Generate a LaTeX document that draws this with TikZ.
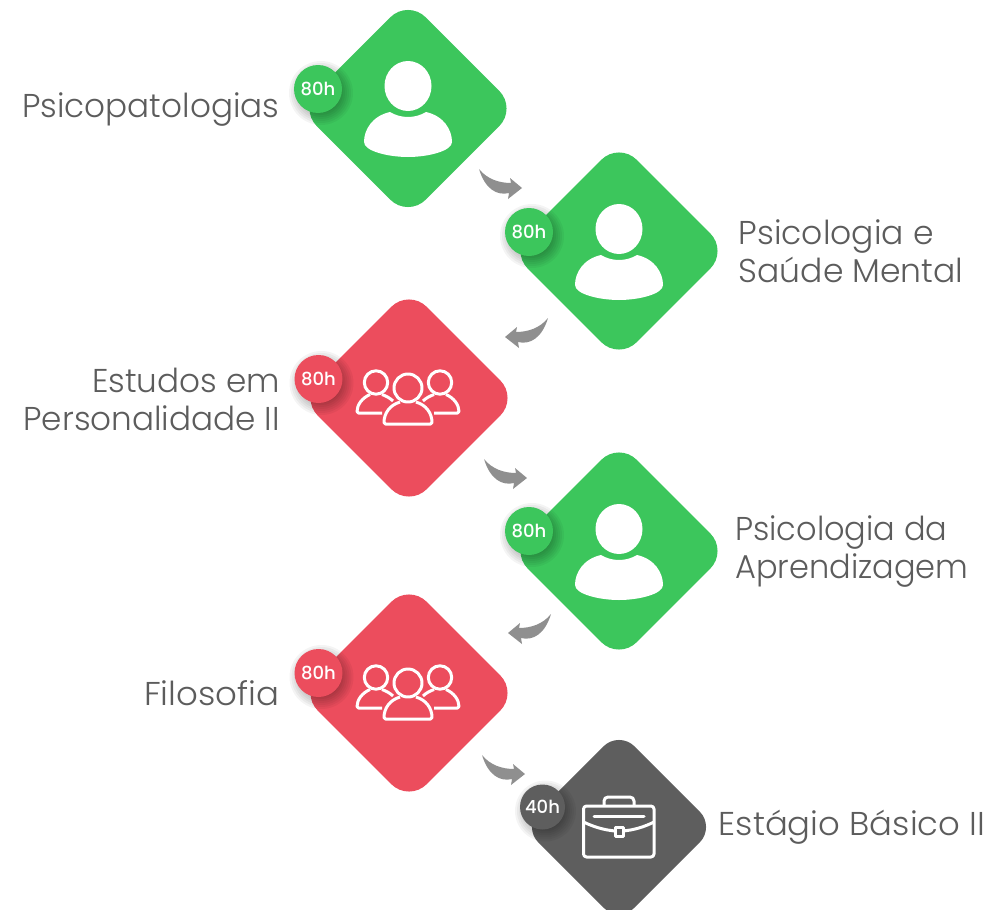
\documentclass[tikz,border=0pt]{standalone}
\usepackage{fontspec}
\setmainfont{Poppins}[UprightFont=* Light,BoldFont=* Medium]
\definecolor{cgreen}{HTML}{3CC65C}
\definecolor{cred}{HTML}{EC4D5D}
\definecolor{cdark}{HTML}{5E5E5E}
\definecolor{carrow}{HTML}{8F8F8F}
\definecolor{ctext}{HTML}{5C5C5C}
\tikzset{
  tile/.style={shape=rectangle,rotate=45,minimum size=154pt,rounded corners=25pt,fill=#1,inner sep=0pt},
  smalltile/.style={shape=rectangle,rotate=45,minimum size=136pt,rounded corners=22pt,fill=#1,inner sep=0pt},
  badge/.style={shape=circle,minimum size=48pt,inner sep=0pt,fill=#1,text=white,font=\fontsize{18}{18}\selectfont\bfseries},
  label/.style={text=ctext,font=\fontsize{33}{38}\selectfont,inner sep=0pt},
  iconline/.style={draw=white,line width=3pt,line join=round},
}
\newcommand\softshadow[2]{\begin{scope}[shift={(#1)}]
  \foreach \d in {-4,-2,...,8} {\fill[black,opacity=.045] (3,4) circle[radius=#2+\d];}
\end{scope}}
\newcommand\personicon[1]{\begin{scope}[shift={(#1)}]
  \fill[white] (0,0) ellipse[x radius=23.5,y radius=25];
  \fill[white] (0,31) .. controls (-7,31) and (-13,29) .. (-18,26)
    .. controls (-36,30) and (-44,44) .. (-44,56)
    .. controls (-44,65) and (-20,71) .. (0,71)
    .. controls (20,71) and (44,65) .. (44,56)
    .. controls (44,44) and (36,30) .. (18,26)
    .. controls (13,29) and (7,31) .. (0,31) -- cycle;
\end{scope}}
\newcommand\groupicon[1]{\begin{scope}[shift={(#1)}]
  \draw[iconline] (-32,-5.5) circle[radius=11.7];
  \draw[iconline] (32,-5.5) circle[radius=11.7];
  \draw[iconline,rounded corners=1.5pt] (-38,6.5) .. controls (-46,10) and (-51,17) .. (-51,25) -- (-26,25);
  \draw[iconline] (-26,6.5) .. controls (-22,8) and (-18,10) .. (-15,13);
  \draw[iconline,rounded corners=1.5pt] (38,6.5) .. controls (46,10) and (51,17) .. (51,25) -- (26,25);
  \draw[iconline] (26,6.5) .. controls (22,8) and (18,10) .. (15,13);
  \draw[iconline] (0,0) circle[radius=14];
  \draw[iconline,rounded corners=1.5pt] (-8,14) .. controls (-18,17) and (-24,25) .. (-24,36) -- (24,36) .. controls (24,25) and (18,17) .. (8,14);
\end{scope}}
\newcommand\garrow[2]{\begin{scope}[shift={(#1)},xscale=#2]
  \fill[carrow] (0,0) .. controls (8,10) and (20,14) .. (32,14) -- (31,9) -- (43,19) -- (29,30) -- (30,24)
     .. controls (18,27) and (6,20) .. (0,0) -- cycle;
\end{scope}}
\begin{document}
\begin{tikzpicture}[x=1pt,y=-1pt]
\useasboundingbox (0,0) rectangle (1007,910);
\clip (0,0) rectangle (1007,910);
\node[tile=cgreen] (t1) at (408,108.5) {};
\node[tile=cgreen] (t2) at (619,251) {};
\node[tile=cred] (t3) at (409,398) {};
\node[tile=cgreen] (t4) at (619,551) {};
\node[tile=cred] (t5) at (409,693) {};
\node[smalltile=cdark] (t6) at (619,827) {};
\personicon{408,86}
\personicon{619,229}
\groupicon{408,388}
\personicon{619,529}
\groupicon{408,683}
% briefcase
\draw[iconline,rounded corners=3pt] (583.5,806) rectangle (654,857);
\draw[iconline,rounded corners=4pt] (604,806) -- (604,797) -- (634,797) -- (634,806);
\draw[iconline,line cap=round] (594,816) -- (644,816);
\draw[iconline] (583.5,822) .. controls (594,827) and (604,830) .. (615,831);
\draw[iconline] (654,822) .. controls (644,827) and (634,830) .. (623,831);
\draw[iconline] (615.5,827) rectangle (623,836.5);
% badges
\softshadow{318,89}{24}
\softshadow{529,232}{24}
\softshadow{318.5,379}{24}
\softshadow{529,531}{24}
\softshadow{318.5,673}{24}
\softshadow{542.5,807}{22.5}
\node[badge=cgreen] (b1) at (318,89) {80h};
\node[badge=cgreen] (b2) at (529,232) {80h};
\node[badge=cred] (b3) at (318.5,379) {80h};
\node[badge=cgreen] (b4) at (529,531) {80h};
\node[badge=cred] (b5) at (318.5,673) {80h};
\node[badge=cdark,minimum size=45pt] (b6) at (542.5,807) {40h};
% arrows
\garrow{479,169}{1}
\garrow{548,318}{-1}
\garrow{484,459}{1}
\garrow{551,614}{-1}
\garrow{482,755}{1}
% labels
\node[label,anchor=base east,xscale=.99] (l1) at (279.5,117) {Psicopatologias};
\node[label,anchor=base west,align=left] (l2) at (738.5,282) {Psicologia e\\Saúde Mental};
\node[label,anchor=base east,align=right,xscale=.99] (l3) at (280,430) {Estudos em\\Personalidade II};
\node[label,anchor=base west,align=left,xscale=.97] (l4) at (735,578) {Psicologia da\\Aprendizagem};
\node[label,anchor=base east,xscale=1.03] (l5) at (279.5,705) {Filosofia};
\node[label,anchor=base west,xscale=1.027] (l6) at (718.5,835) {Estágio Básico II};
\end{tikzpicture}
\end{document}
